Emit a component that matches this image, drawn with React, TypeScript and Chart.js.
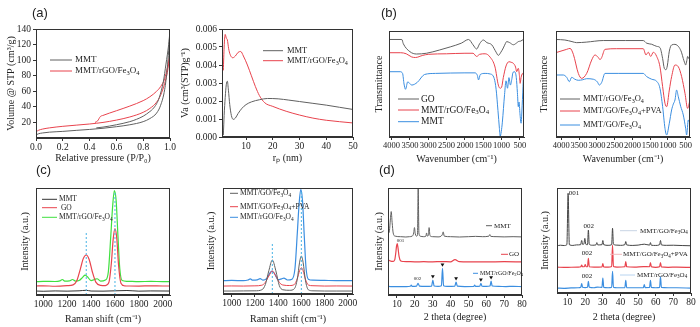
import React, { useEffect, useRef } from 'react';
import { Chart, registerables } from 'chart.js';
Chart.register(...registerables);

const SERIF = "'Liberation Serif', 'Times New Roman', serif";
const C_GRAY = '#606060';
const C_RED = '#e8434d';
const C_BLUE = '#3b8ee0';
const C_GREEN = '#3fe03f';
const C_DARK = '#333333';
const C_DASH = '#49b4e6';

// ---------- (a) N2 isotherms ----------
const ISO_MMT_ADS_X = [0, 0.02, 0.05, 0.1, 0.2, 0.3, 0.4, 0.5, 0.6, 0.7, 0.8, 0.85, 0.9, 0.93, 0.96, 0.98, 0.99, 1.0];
const ISO_MMT_ADS_Y = [4, 5.5, 6.5, 7.5, 8.5, 9.8, 11, 12.5, 14.5, 17, 21, 25, 32, 42, 62, 90, 112, 138];
const ISO_MMT_DES_X = [0.45, 0.5, 0.6, 0.7, 0.75, 0.8, 0.85, 0.87, 0.9, 0.92, 0.95, 0.97, 0.99, 1.0];
const ISO_MMT_DES_Y = [13, 14, 17, 21, 24, 28, 34, 37, 44, 52, 72, 95, 120, 138];
const ISO_NC_ADS_X = [0, 0.02, 0.05, 0.1, 0.2, 0.3, 0.4, 0.5, 0.6, 0.7, 0.8, 0.85, 0.9, 0.93, 0.96, 0.98, 1.0];
const ISO_NC_ADS_Y = [8, 10, 11.5, 13, 15, 16.5, 18, 20, 23, 27, 33, 38, 46, 55, 70, 84, 108];
const ISO_NC_DES_X = [0.44, 0.46, 0.48, 0.5, 0.6, 0.7, 0.8, 0.85, 0.9, 0.93, 0.96, 0.98, 1.0];
const ISO_NC_DES_Y = [20, 22, 27.5, 29, 35, 41, 48, 53, 60, 66, 76, 90, 108];
const ISO_X_TICKS = [0, 0.2, 0.4, 0.6, 0.8, 1.0];
const ISO_Y_TICKS = [20, 40, 60, 80, 100, 120, 140];

// ---------- (a) pore size distribution ----------
const PSD_MMT_X = [1.5, 1.8, 2.2, 2.6, 3.0, 3.4, 3.9, 4.5, 5.2, 6.0, 7.0, 8.5, 10, 12, 15, 18, 22, 26, 30, 35, 40, 45, 50];
const PSD_MMT_Y = [0.0001, 0.0012, 0.0022, 0.0029, 0.0031, 0.0026, 0.0018, 0.0012, 0.00098, 0.00105, 0.0013, 0.0016, 0.0018, 0.00195, 0.00207, 0.00214, 0.00212, 0.00205, 0.00197, 0.00187, 0.00177, 0.00165, 0.00153];
const PSD_NC_X = [1.5, 1.8, 2.2, 2.6, 3.0, 3.5, 4.0, 5.0, 6.0, 7.0, 8.0, 9.0, 10.5, 12, 13.5, 15, 17, 20, 25, 30, 35, 40, 45, 50];
const PSD_NC_Y = [0.0037, 0.0050, 0.0057, 0.0055, 0.0054, 0.0049, 0.0046, 0.0044, 0.0045, 0.0047, 0.00475, 0.0045, 0.0040, 0.0034, 0.0028, 0.0023, 0.0019, 0.0017, 0.00143, 0.00122, 0.00105, 0.00093, 0.00085, 0.00078];
const PSD_X_TICKS = [10, 20, 30, 40, 50];
const PSD_Y_TICKS = [0, 0.001, 0.002, 0.003, 0.004, 0.005, 0.006];

// ---------- (b) FTIR left ----------
const FT1_GO_X = [4070, 3720, 3680, 3500, 3320, 3050, 2700, 2400, 2100, 1900, 1780, 1680, 1600, 1500, 1400, 1270, 1150, 1090, 1020, 954, 900, 862, 780, 680, 600, 545, 480, 409];
const FT1_GO_Y = [92, 92, 88, 80.5, 78.3, 79, 82, 85, 88.5, 92, 87, 83, 88, 91.5, 89, 87, 80, 77, 80, 84, 88, 90, 89, 87, 88.5, 90, 90.5, 92];
const FT1_NC_X = [4070, 3750, 3600, 3450, 3350, 3150, 3000, 2500, 2000, 1780, 1680, 1600, 1450, 1317, 1180, 1090, 1040, 1000, 954, 880, 800, 740, 680, 620, 590, 545, 515, 495, 470, 430, 409];
const FT1_NC_Y = [79.5, 79.5, 78.5, 75.5, 75, 77, 78, 78.5, 79, 79, 76, 78, 78.5, 75.5, 66, 49, 46, 47, 56, 67, 71, 70.5, 69.5, 66, 61.6, 64.8, 58, 50.6, 56, 60, 58.5];
const FT1_MMT_X = [4070, 3770, 3700, 3660, 3620, 3560, 3450, 3300, 3100, 2800, 2000, 1726, 1660, 1630, 1580, 1450, 1317, 1200, 1150, 1100, 1060, 1040, 1010, 980, 920, 880, 840, 800, 760, 720, 690, 640, 600, 570, 545, 525, 500, 470, 440, 409];
const FT1_MMT_Y = [61.6, 61.6, 60, 50, 45, 52, 49, 51.5, 59, 60, 60.5, 60.5, 58, 53.8, 59, 60, 59.5, 55, 45, 25, 8, 0.5, 5, 14, 40, 53, 46, 56, 49, 55, 61, 61.5, 56, 42, 28.6, 33, 22, 13, 30, 54];

// ---------- (b) FTIR right ----------
const FT2_NC_X = [4150, 3900, 3700, 3568, 3300, 2819, 2200, 1694, 1600, 1458, 1317, 1225, 1150, 1103, 1056, 1019, 962, 897, 803, 740, 681, 620, 569, 530, 503, 470, 447, 410, 380];
const FT2_NC_Y = [92, 91.5, 90, 89, 89.5, 91, 91, 91, 88.5, 87.5, 85.5, 84.3, 74, 64.8, 63.5, 67, 81, 86.8, 87.4, 86.5, 84.3, 80, 74, 70, 67.9, 72, 76, 74, 72.6];
const FT2_PVA_X = [4150, 3849, 3756, 3662, 3522, 3428, 3287, 3146, 3053, 2960, 2912, 2865, 2772, 2444, 1694, 1618, 1553, 1486, 1411, 1317, 1225, 1150, 1084, 1037, 962, 897, 803, 709, 615, 521, 447, 380];
const FT2_PVA_Y = [79.6, 82.7, 83.6, 78, 60, 55.3, 60, 72.6, 77.4, 75, 73, 75, 82.7, 83.3, 83.3, 77.4, 80, 76, 80, 76, 66.3, 47.5, 31.8, 28.6, 44.3, 56.9, 67.9, 66.3, 56.9, 41.2, 27, 34.9];
const FT2_GO_X = [4150, 3944, 3849, 3775, 3709, 3620, 3522, 3400, 3287, 3100, 2987, 2931, 2865, 2772, 2400, 1694, 1600, 1458, 1317, 1225, 1150, 1084, 1037, 962, 897, 850, 803, 756, 709, 643, 569, 503, 475, 428, 380];
const FT2_GO_Y = [58.5, 58.5, 56.3, 52.2, 56.3, 54.5, 53.5, 54, 55, 54.5, 52, 49, 51.5, 60, 60, 60, 57, 54.5, 52.5, 45.9, 28.6, 8.2, 1.9, 13, 25.5, 31, 34.9, 44.3, 38, 29, 20.8, 8.2, 1.9, 16, 12.6];
const FTIR_X_TICKS = [4000, 3500, 3000, 2500, 2000, 1500, 1000, 500];

// ---------- (c) Raman left ----------
const RA1_MMT_X = [940, 1000, 1100, 1200, 1300, 1360, 1400, 1500, 1600, 1700, 1800, 1900, 2060];
const RA1_MMT_Y = [3.7, 3.5, 3.8, 3.6, 3.9, 4.4, 3.7, 3.6, 3.9, 4.2, 3.6, 3.8, 3.7];
const RA1_GO_X = [940, 1000, 1100, 1200, 1250, 1280, 1310, 1335, 1360, 1385, 1410, 1440, 1480, 1520, 1550, 1570, 1585, 1600, 1615, 1630, 1650, 1680, 1720, 1800, 1900, 2000, 2060];
const RA1_GO_Y = [8.4, 8.6, 8.2, 8.7, 9.5, 13, 24, 34, 37.4, 33, 22, 12, 9, 8.8, 12, 30, 52, 62, 53, 28, 11, 8.6, 8.4, 8.3, 8.6, 8.4, 8.4];
const RA1_NC_X = [940, 1000, 1100, 1140, 1160, 1180, 1220, 1245, 1270, 1300, 1330, 1350, 1370, 1400, 1430, 1450, 1480, 1520, 1545, 1565, 1580, 1595, 1610, 1625, 1640, 1660, 1700, 1800, 1900, 2000, 2060];
const RA1_NC_Y = [12.5, 12.7, 12.6, 13.2, 14.5, 13, 13.2, 14.5, 13, 13.5, 16.5, 18.5, 17, 13.5, 14.5, 15.2, 13, 14, 22, 55, 82, 97.5, 88, 55, 25, 13.5, 12.8, 12.5, 12.7, 12.5, 12.5];
const RA1_D = [1360, 0, 59];
const RA1_G = [1600, 0, 97];

// ---------- (c) Raman right ----------
const RA2_GO_X = [925, 1000, 1100, 1200, 1260, 1290, 1320, 1350, 1380, 1410, 1440, 1500, 1540, 1565, 1585, 1600, 1615, 1635, 1660, 1700, 1800, 1900, 2045];
const RA2_GO_Y = [2.8, 2.8, 2.9, 3.0, 4, 9, 22, 32, 22, 8, 4, 3.5, 5, 14, 30, 35.8, 30, 13, 4, 3, 2.8, 2.8, 2.8];
const RA2_PVA_Y = [7.5, 7.6, 7.5, 7.7, 8.3, 11, 17, 21.7, 17, 11, 8.5, 8, 9, 14.5, 22, 24.8, 22, 14, 8.5, 7.8, 7.5, 7.6, 7.5];
const RA2_NC_X = [925, 1000, 1100, 1140, 1160, 1180, 1220, 1245, 1270, 1300, 1325, 1345, 1370, 1400, 1430, 1450, 1480, 1520, 1545, 1565, 1580, 1595, 1610, 1625, 1640, 1660, 1700, 1800, 1900, 2045];
const RA2_NC_Y = [12.6, 12.8, 12.6, 13.2, 14.3, 13, 13.3, 14.5, 13.1, 14.5, 19, 21.7, 19, 13.5, 14.3, 15, 13.2, 14, 24, 57, 84, 98.7, 88, 55, 25, 14, 13, 12.8, 12.6, 12.6];
const RA2_D = [1350, 0, 48];
const RA2_G = [1600, 0, 98];
const RAMAN_X_TICKS = [1000, 1200, 1400, 1600, 1800, 2000];

// ---------- (d) XRD left ----------
const XR1_MMT_X = [5, 5.8, 6.3, 6.8, 7.3, 7.9, 9, 12, 15, 17, 18.5, 19.4, 19.8, 20.3, 21, 21.5, 21.9, 22.3, 23, 25, 26.2, 26.6, 27, 27.6, 28, 28.5, 30, 33, 35.3, 35.9, 36.5, 40, 45, 50, 54, 58, 61.5, 62, 62.5, 66, 70, 75, 80];
const XR1_MMT_Y = [57, 60, 70, 78, 68, 58, 55, 54.5, 54.2, 54.5, 55, 58, 63, 57, 55, 56, 100, 58, 55, 54.5, 55, 58, 55, 56, 63, 55.5, 54.5, 54.3, 56, 59, 55, 54.5, 54.2, 54.5, 54.8, 54.5, 55, 56.5, 54.8, 54.5, 54.3, 54.5, 54.3];
const XR1_GO_X = [5, 6, 7, 8, 8.8, 9.4, 9.8, 10.2, 10.6, 11.2, 12, 13.5, 16, 20, 25, 30, 35, 40, 42.5, 45, 50, 60, 70, 80];
const XR1_GO_Y = [33, 32, 31.5, 31.5, 33, 40, 46, 48, 44, 36, 32, 31.3, 31.2, 31, 31.1, 31, 31.2, 31, 33, 31.2, 31, 31, 31.1, 31];
const XR1_NC_X = [5, 10, 15, 17.5, 18, 18.5, 21, 21.8, 22.6, 26, 29.4, 30.1, 30.8, 33, 34.9, 35.5, 36.1, 38, 42.4, 43.1, 43.8, 48, 53, 53.5, 54, 56.4, 57, 57.6, 60, 62.1, 62.7, 63.3, 67, 71, 75, 80];
const XR1_NC_Y = [8, 7.8, 7.9, 8.2, 9.2, 8.1, 8.3, 11, 8.3, 8, 8.3, 14, 8.4, 8, 8.6, 25, 8.6, 8, 8.3, 12, 8.3, 7.9, 8, 9.2, 8, 8.2, 11, 8.2, 8, 8.4, 13, 8.4, 8, 7.9, 8.1, 7.8];
const XR1_MARK_X = [30.1, 35.5, 43.1, 57, 62.7];
const XR1_MARK_Y = [17.5, 28.5, 15.5, 14.5, 16.5];

// ---------- (d) XRD right ----------
const XR2_GO_X = [4, 6, 8, 9.6, 10.3, 11, 13, 15, 17.4, 18, 18.6, 19.3, 19.8, 20.3, 21.3, 21.8, 22.3, 24, 26.1, 26.6, 27.1, 29.5, 30, 30.5, 33, 35, 35.5, 36, 38, 40, 42.5, 43, 43.5, 47, 50, 53.5, 56.5, 57, 57.5, 60, 62.2, 62.7, 63.2, 66, 70, 75, 80];
const XR2_GO_Y = [45, 45.5, 45.2, 46, 95, 46, 45.3, 45.8, 46, 50, 46.2, 47, 52, 46.5, 46, 60, 46.5, 45.5, 45.8, 48, 45.8, 46, 50, 46, 45.4, 46, 61.6, 46.5, 45.6, 45.4, 46, 49, 45.8, 45.3, 45.6, 46.5, 45.6, 48, 45.5, 45.3, 46, 50, 45.8, 45.4, 45.5, 45.2, 45];
const XR2_PVA_X = [4, 8, 12, 16, 17.5, 18, 18.5, 19.5, 20, 20.5, 21.3, 21.8, 22.3, 25, 29.5, 30, 30.5, 33, 35, 35.5, 36, 38, 42.5, 43, 43.5, 48, 53, 56.5, 57, 57.5, 60, 62.2, 62.7, 63.2, 67, 72, 80];
const XR2_PVA_Y = [24.6, 24.4, 24.5, 24.6, 25, 26.5, 25, 25, 27, 25, 25, 33, 25, 24.6, 24.8, 28, 24.8, 24.6, 25.2, 45.7, 25.2, 24.7, 25, 30, 25, 24.6, 25.2, 25, 29, 25, 24.5, 25, 29, 24.8, 24.5, 24.6, 24.4];
const XR2_NC_X = [4, 8, 12, 16, 17.5, 18, 18.5, 20, 21.3, 21.8, 22.3, 25, 27, 29.5, 30, 30.5, 33, 35, 35.5, 36, 38, 42.5, 43, 43.5, 48, 53, 53.5, 54, 56.5, 57, 57.5, 60, 62.2, 62.7, 63.2, 67, 72, 80];
const XR2_NC_Y = [4.6, 4.5, 4.8, 5, 5.5, 9, 5.5, 5.2, 5.5, 11, 5.5, 5, 5.6, 5.4, 14.3, 5.4, 5, 5.5, 20.6, 5.5, 5, 5.2, 12, 5.2, 5, 5.2, 8, 5.2, 5.3, 12, 5.3, 5, 5.4, 15.5, 5.4, 5, 5, 4.6];
const XRD_X_TICKS = [10, 20, 30, 40, 50, 60, 70, 80];

// ---------- helpers ----------
const pts = (xs: number[], ys: number[]) => xs.map((x, i) => ({ x, y: ys[i] }));
const line = (xs: number[], ys: number[], color: string, width = 1) => ({
  data: pts(xs, ys), borderColor: color, borderWidth: width, pointRadius: 0, fill: false,
  cubicInterpolationMode: 'monotone',
});
const vline = (spec: number[]) => ({
  data: [{ x: spec[0], y: spec[1] }, { x: spec[0], y: spec[2] }],
  borderColor: C_DASH, borderWidth: 1, borderDash: [2, 2], pointRadius: 0, fill: false,
});
const marks = (xs: number[], ys: number[]) => ({
  data: pts(xs, ys), showLine: false, pointStyle: 'triangle', pointRotation: 180, pointRadius: 2.2,
  pointBackgroundColor: '#111', pointBorderColor: '#111', pointBorderWidth: 0,
});

function drawRich(ctx: any, text: string, x: number, y: number, size: number, color: string, align = 'left') {
  const parts: { t: string; k: number }[] = [];
  const re = /([_^])\{([^}]*)\}/g;
  let last = 0; let m: any;
  while ((m = re.exec(text))) {
    if (m.index > last) parts.push({ t: text.slice(last, m.index), k: 0 });
    parts.push({ t: m[2], k: m[1] === '_' ? 1 : 2 });
    last = re.lastIndex;
  }
  if (last < text.length) parts.push({ t: text.slice(last), k: 0 });
  const fontFor = (k: number) => `${k ? size * 0.72 : size}px ${SERIF}`;
  let total = 0;
  for (const p of parts) { ctx.font = fontFor(p.k); total += ctx.measureText(p.t).width; }
  let cx = align === 'center' ? x - total / 2 : x;
  ctx.fillStyle = color; ctx.textBaseline = 'middle'; ctx.textAlign = 'left';
  for (const p of parts) {
    ctx.font = fontFor(p.k);
    const dy = p.k === 1 ? size * 0.28 : p.k === 2 ? -size * 0.35 : 0;
    ctx.fillText(p.t, cx, y + dy);
    cx += ctx.measureText(p.t).width;
  }
}

const framePlugin = {
  id: 'frame',
  afterDraw(chart: any) {
    const { ctx, chartArea: a } = chart;
    ctx.save();
    ctx.strokeStyle = '#333'; ctx.lineWidth = 1;
    ctx.strokeRect(Math.round(a.left) + 0.5, Math.round(a.top) + 0.5, Math.round(a.right - a.left) - 1, Math.round(a.bottom - a.top) - 1);
    ctx.restore();
  },
};

type Leg = { text: string; color: string; y: number; x0: number; x1: number; tx: number; size: number };
type Note = { text: string; x: number; y: number; size: number };

function Panel({ spec }: { spec: any }) {
  const ref = useRef<HTMLCanvasElement>(null);
  const [l, t, r, b] = spec.box;
  const cl = Math.round(spec.yTitleX - 8);
  const ct = t - 12;
  const cr = Math.min(r + 14, 700);
  const cb = Math.round(spec.xTitleY + 8);
  const W = cr - cl, H = cb - ct;
  useEffect(() => {
    const marksPlugin = {
      id: 'marks',
      afterDraw(chart: any) {
        const { ctx, chartArea: a, scales } = chart;
        ctx.save();
        (spec.legend as Leg[]).forEach((g) => {
          ctx.strokeStyle = g.color; ctx.lineWidth = 1;
          ctx.beginPath();
          ctx.moveTo(a.left + g.x0, a.top + g.y); ctx.lineTo(a.left + g.x1, a.top + g.y);
          ctx.stroke();
          drawRich(ctx, g.text, a.left + g.tx, a.top + g.y, g.size, '#222');
        });
        (spec.notes as Note[]).forEach((n) => {
          drawRich(ctx, n.text, scales.x.getPixelForValue(n.x), scales.y.getPixelForValue(n.y), n.size, '#222', 'center');
        });
        ctx.restore();
      },
    };
    const tickFont = { family: SERIF, size: spec.tickSize };
    const titleFont = { family: SERIF, size: 10 };
    const chart = new Chart(ref.current as HTMLCanvasElement, {
      type: 'line',
      data: { datasets: spec.datasets },
      options: {
        responsive: false, animation: false, devicePixelRatio: 1,
        layout: { padding: { top: t - ct, right: cr - r, left: 0, bottom: 0 } },
        plugins: { legend: { display: false }, tooltip: { enabled: false } },
        scales: {
          x: {
            type: 'linear', min: spec.xMin, max: spec.xMax, reverse: !!spec.xReverse,
            afterFit: (s: any) => { s.height = cb - b; },
            afterBuildTicks: (s: any) => { s.ticks = spec.xTicks.map((v: number) => ({ value: v })); },
            ticks: { font: tickFont, color: '#222', autoSkip: false, maxRotation: 0, minRotation: 0, padding: 1, callback: spec.xFmt },
            grid: { display: true, drawOnChartArea: false, drawTicks: true, tickLength: 3, color: '#333' },
            border: { display: true, color: '#333' },
            title: { display: true, text: spec.xTitle, font: titleFont, color: '#222', padding: { top: 0, bottom: 2 } },
          },
          y: {
            type: 'linear', min: spec.yMin, max: spec.yMax,
            afterFit: (s: any) => { s.width = l - cl; },
            ...(spec.yTicks ? { afterBuildTicks: (s: any) => { s.ticks = spec.yTicks.map((v: number) => ({ value: v })); } } : {}),
            ticks: { display: !!spec.yTicks, font: tickFont, color: '#222', padding: 2, callback: spec.yFmt },
            grid: { display: !!spec.yTicks, drawOnChartArea: false, drawTicks: true, tickLength: 3, color: '#333' },
            border: { display: true, color: '#333' },
            title: { display: true, text: spec.yTitle, font: titleFont, color: '#222', padding: { top: 2, bottom: 0 } },
          },
        },
      } as any,
      plugins: [framePlugin, marksPlugin],
    });
    return () => chart.destroy();
  }, []);
  return <canvas ref={ref} width={W} height={H} style={{ position: 'absolute', left: cl, top: ct }} />;
}

const fmt1 = (v: any) => Number(v).toFixed(1);
const fmt3 = (v: any) => Number(v).toFixed(3);
const fmt0 = (v: any) => String(v);

const PANELS: any[] = [
  {
    box: [36, 29, 170, 138], yTitleX: 11, xTitleY: 158, tickSize: 9.5,
    xTitle: 'Relative pressure (P/P₀)', yTitle: 'Volume @ STP (cm³/g)',
    xMin: 0, xMax: 1, xTicks: ISO_X_TICKS, xFmt: fmt1, yMin: 0, yMax: 140, yTicks: ISO_Y_TICKS, yFmt: fmt0,
    datasets: [
      line(ISO_MMT_ADS_X, ISO_MMT_ADS_Y, C_GRAY), line(ISO_MMT_DES_X, ISO_MMT_DES_Y, C_GRAY),
      line(ISO_NC_ADS_X, ISO_NC_ADS_Y, C_RED), line(ISO_NC_DES_X, ISO_NC_DES_Y, C_RED),
    ],
    legend: [
      { text: 'MMT', color: C_GRAY, y: 31, x0: 14, x1: 36, tx: 39, size: 9 },
      { text: 'MMT/rGO/Fe_{3}O_{4}', color: C_RED, y: 42, x0: 14, x1: 36, tx: 39, size: 9 },
    ],
    notes: [],
  },
  {
    box: [222, 29, 353, 137], yTitleX: 185, xTitleY: 158, tickSize: 9.5,
    xTitle: 'rₚ (nm)', yTitle: 'Va (cm³(STP)g⁻¹)',
    xMin: 1, xMax: 50, xTicks: PSD_X_TICKS, xFmt: fmt0, yMin: 0, yMax: 0.006, yTicks: PSD_Y_TICKS, yFmt: fmt3,
    datasets: [line(PSD_MMT_X, PSD_MMT_Y, C_GRAY), line(PSD_NC_X, PSD_NC_Y, C_RED)],
    legend: [
      { text: 'MMT', color: C_GRAY, y: 21.7, x0: 41, x1: 61, tx: 65, size: 8.5 },
      { text: 'MMT/rGO/Fe_{3}O_{4}', color: C_RED, y: 31.7, x0: 41, x1: 61, tx: 65, size: 8.5 },
    ],
    notes: [],
  },
  {
    box: [389, 31, 524, 137], yTitleX: 378.5, xTitleY: 159, tickSize: 8.5,
    xTitle: 'Wavenumber (cm⁻¹)', yTitle: 'Transmittance',
    xMin: 390, xMax: 4070, xReverse: true, xTicks: FTIR_X_TICKS, xFmt: fmt0, yMin: 0, yMax: 100,
    datasets: [line(FT1_GO_X, FT1_GO_Y, C_GRAY), line(FT1_NC_X, FT1_NC_Y, C_RED), line(FT1_MMT_X, FT1_MMT_Y, C_BLUE)],
    legend: [
      { text: 'GO', color: C_GRAY, y: 68, x0: 9, x1: 30, tx: 32, size: 9.5 },
      { text: 'MMT/rGO/Fe_{3}O_{4}', color: C_RED, y: 79, x0: 9, x1: 30, tx: 32, size: 9.5 },
      { text: 'MMT', color: C_BLUE, y: 90.7, x0: 9, x1: 30, tx: 32, size: 9.5 },
    ],
    notes: [],
  },
  {
    box: [556, 31, 690, 137], yTitleX: 543.5, xTitleY: 159, tickSize: 8.5,
    xTitle: 'Wavenumber (cm⁻¹)', yTitle: 'Transmittance',
    xMin: 380, xMax: 4150, xReverse: true, xTicks: FTIR_X_TICKS, xFmt: fmt0, yMin: 0, yMax: 100,
    datasets: [line(FT2_NC_X, FT2_NC_Y, C_GRAY), line(FT2_PVA_X, FT2_PVA_Y, C_RED), line(FT2_GO_X, FT2_GO_Y, C_BLUE)],
    legend: [
      { text: 'MMT/rGO/Fe_{3}O_{4}', color: C_GRAY, y: 68, x0: 4, x1: 24, tx: 27, size: 8.5 },
      { text: 'MMT/GO/Fe_{3}O_{4}+PVA', color: C_RED, y: 80, x0: 4, x1: 24, tx: 27, size: 8.5 },
      { text: 'MMT/GO/Fe_{3}O_{4}', color: C_BLUE, y: 94, x0: 4, x1: 24, tx: 27, size: 8.5 },
    ],
    notes: [],
  },
  {
    box: [36, 188, 170, 295], yTitleX: 24.5, xTitleY: 319, tickSize: 9.5,
    xTitle: 'Raman shift (cm⁻¹)', yTitle: 'Intensity (a.u.)',
    xMin: 940, xMax: 2060, xTicks: RAMAN_X_TICKS, xFmt: fmt0, yMin: 0, yMax: 100,
    datasets: [vline(RA1_D), vline(RA1_G), line(RA1_MMT_X, RA1_MMT_Y, C_DARK), line(RA1_GO_X, RA1_GO_Y, C_RED, 1.2), line(RA1_NC_X, RA1_NC_Y, C_GREEN, 1.2)],
    legend: [
      { text: 'MMT', color: C_DARK, y: 11.3, x0: 6, x1: 21, tx: 23, size: 7.5 },
      { text: ' GO', color: C_RED, y: 19.7, x0: 6, x1: 21, tx: 23, size: 7.5 },
      { text: 'MMT/rGO/Fe_{3}O_{4}', color: C_GREEN, y: 29.3, x0: 6, x1: 21, tx: 23, size: 7.5 },
    ],
    notes: [],
  },
  {
    box: [223, 188, 353, 294], yTitleX: 211, xTitleY: 319, tickSize: 9.5,
    xTitle: 'Raman shift (cm⁻¹)', yTitle: 'Intensity (a.u.)',
    xMin: 925, xMax: 2045, xTicks: RAMAN_X_TICKS, xFmt: fmt0, yMin: 0, yMax: 100,
    datasets: [vline(RA2_D), vline(RA2_G), line(RA2_GO_X, RA2_GO_Y, C_GRAY), line(RA2_GO_X, RA2_PVA_Y, C_RED), line(RA2_NC_X, RA2_NC_Y, C_BLUE, 1.2)],
    legend: [
      { text: 'MMT/GO/Fe_{3}O_{4}', color: C_GRAY, y: 5.3, x0: 7, x1: 15, tx: 17, size: 7.5 },
      { text: 'MMT/GO/Fe_{3}O_{4}+PVA', color: C_RED, y: 18.7, x0: 7, x1: 15, tx: 17, size: 7.5 },
      { text: 'MMT/rGO/Fe_{3}O_{4}', color: C_BLUE, y: 29.3, x0: 7, x1: 15, tx: 17, size: 7.5 },
    ],
    notes: [],
  },
  {
    box: [388, 188, 522, 295], yTitleX: 378.5, xTitleY: 316.5, tickSize: 9.5,
    xTitle: '2 theta (degree)', yTitle: 'Intensity (a.u.)',
    xMin: 5, xMax: 80, xTicks: XRD_X_TICKS, xFmt: fmt0, yMin: 0, yMax: 100,
    datasets: [marks(XR1_MARK_X, XR1_MARK_Y), line(XR1_MMT_X, XR1_MMT_Y, C_GRAY), line(XR1_GO_X, XR1_GO_Y, C_RED, 1.2), line(XR1_NC_X, XR1_NC_Y, C_BLUE, 1.2)],
    legend: [
      { text: 'MMT', color: C_GRAY, y: 37.7, x0: 98, x1: 104, tx: 106, size: 7 },
      { text: 'GO', color: C_RED, y: 66.3, x0: 113, x1: 120, tx: 121, size: 7 },
      { text: 'MMT/rGO/Fe_{3}O_{4}', color: C_BLUE, y: 85.3, x0: 85, x1: 90, tx: 92, size: 6 },
    ],
    notes: [
      { text: '001', x: 12, y: 51, size: 5 },
      { text: '002', x: 21.5, y: 15.5, size: 5 },
    ],
  },
  {
    box: [557, 188, 691, 293], yTitleX: 545, xTitleY: 316.5, tickSize: 9.5,
    xTitle: '2 theta (degree)', yTitle: 'Intensity (a.u.)',
    xMin: 4, xMax: 80, xTicks: XRD_X_TICKS, xFmt: fmt0, yMin: 0, yMax: 100,
    datasets: [line(XR2_GO_X, XR2_GO_Y, '#444'), line(XR2_PVA_X, XR2_PVA_Y, C_RED, 1.2), line(XR2_NC_X, XR2_NC_Y, C_BLUE, 1.2)],
    legend: [
      { text: 'MMT/GO/Fe_{3}O_{4}', color: '#c8d4e4', y: 42.7, x0: 63, x1: 80, tx: 83, size: 7 },
      { text: 'MMT/GO/Fe_{3}O_{4}+PVA', color: '#f0b8bc', y: 66.3, x0: 53, x1: 65, tx: 66, size: 7 },
      { text: 'MMT/rGO/Fe_{3}O_{4}', color: '#b8d4f0', y: 87, x0: 63, x1: 78, tx: 80, size: 7 },
    ],
    notes: [
      { text: '001', x: 13.6, y: 95.5, size: 7 },
      { text: '002', x: 22, y: 64, size: 7 },
      { text: '002', x: 21, y: 37.5, size: 7 },
      { text: '002', x: 21, y: 16, size: 7 },
    ],
  },
];

const LABELS = [
  { text: '(a)', left: 32, top: 6 },
  { text: '(b)', left: 381, top: 6 },
  { text: '(c)', left: 36, top: 163 },
  { text: '(d)', left: 379, top: 163 },
];

export default function App() {
  return (
    <div style={{ position: 'fixed', left: 0, top: 0, width: 700, height: 327, overflow: 'hidden', background: '#fff' }}>
      {PANELS.map((p, i) => <Panel key={i} spec={p} />)}
      {LABELS.map((lb) => (
        <div key={lb.text} style={{ position: 'absolute', left: lb.left, top: lb.top, fontFamily: "'Liberation Sans', Arial, sans-serif", fontSize: 13, lineHeight: '14px', color: '#222' }}>{lb.text}</div>
      ))}
    </div>
  );
}
